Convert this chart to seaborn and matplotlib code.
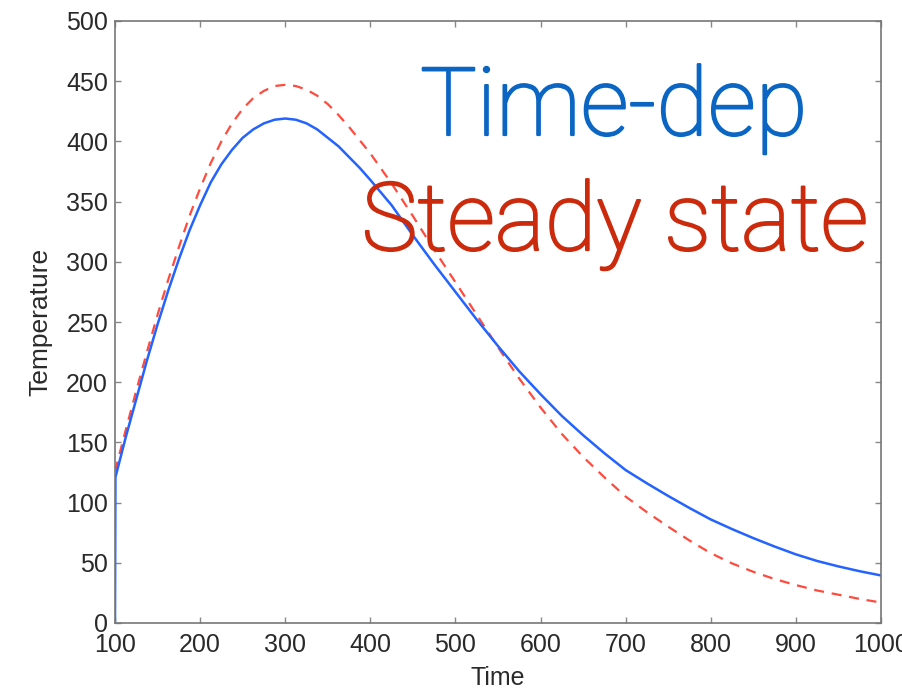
import matplotlib
matplotlib.use("Agg")
import matplotlib.pyplot as plt
import matplotlib.patheffects as pe
import seaborn as sns
import pandas as pd

# ---- data ----
time_dep_t = [100, 100.5, 112.5, 125, 137.5, 150, 162.5, 175, 187.5, 200, 212.5, 225,
              237.5, 250, 262.5, 275, 287.5, 300, 312.5, 325, 337.5, 350, 362.5,
              375, 387.5, 400, 425, 450, 475, 500, 525, 550, 575, 600, 625, 650,
              675, 700, 725, 750, 775, 800, 825, 850, 875, 900, 925, 950, 975, 1000]
time_dep_T = [0, 121, 154, 186, 218, 248, 276, 302, 326, 347, 366, 381,
              393, 403, 410, 415, 418, 419, 418, 415, 410, 403, 396,
              387, 378, 368, 347, 322, 298, 275, 252, 230, 209, 190, 172, 156,
              141, 127, 116, 105.5, 95.5, 86, 78, 70.5, 63.5, 57, 51.5, 47, 43, 39.5]

steady_t = [100, 112.5, 125, 137.5, 150, 162.5, 175, 187.5, 200, 212.5, 225, 237.5,
            250, 262.5, 275, 287.5, 300, 312.5, 325, 337.5, 350, 362.5, 375, 387.5,
            400, 425, 450, 475, 500, 525, 550, 575, 600, 625, 650, 675, 700, 725,
            750, 775, 800, 825, 850, 875, 900, 925, 950, 975, 1000]
steady_T = [126, 160, 193, 225, 256, 285, 312, 338, 361, 382, 400, 415,
            427, 436, 442, 446, 447, 446, 443, 438, 431, 422, 412, 401,
            390, 365, 338, 310, 283, 256, 229, 203, 179, 157, 138, 121, 105, 92,
            80, 68.5, 58, 49.5, 42.5, 36.5, 31.5, 27, 23.5, 20, 17]

x_ticks = [100, 200, 300, 400, 500, 600, 700, 800, 900, 1000]
y_ticks = [0, 50, 100, 150, 200, 250, 300, 350, 400, 450, 500]

x_label = "Time"
y_label = "Temperature"
title_blue = "Time-dep"
title_red = "Steady state"

# ---- figure ----
sns.set_theme(style="white")
plt.rcParams["font.family"] = ["Liberation Sans", "DejaVu Sans"]

fig = plt.figure(figsize=(9.03, 6.89), dpi=100)
ax = fig.add_axes([115 / 903, 1 - 623 / 689, (881 - 115) / 903, (623 - 21) / 689])

df_blue = pd.DataFrame({"t": time_dep_t, "T": time_dep_T})
df_red = pd.DataFrame({"t": steady_t, "T": steady_T})

sns.lineplot(data=df_red, x="t", y="T", ax=ax, color="#ff4a3e", linewidth=1.6,
             linestyle=(0, (4.5, 3.5)), sort=False, estimator=None)
sns.lineplot(data=df_blue, x="t", y="T", ax=ax, color="#2463ff", linewidth=1.8,
             sort=False, estimator=None)

ax.set_xlim(100, 1000)
ax.set_ylim(0, 500)
ax.set_xticks(x_ticks)
ax.set_yticks(y_ticks)
ax.set_xticklabels([str(v) for v in x_ticks])
ax.set_yticklabels([str(v) for v in y_ticks])

label_color = "#2a2a2a"
ax.tick_params(axis="both", which="both", direction="in", length=4, width=1,
               color="#888888", labelsize=18, labelcolor=label_color,
               top=True, right=True, bottom=True, left=True)
ax.tick_params(axis="x", pad=7)
ax.tick_params(axis="y", pad=5)

for s in ax.spines.values():
    s.set_visible(True)
    s.set_color("#777777")
    s.set_linewidth(1.2)

ax.set_xlabel(x_label, fontsize=18, color=label_color, labelpad=7)
ax.set_ylabel(y_label, fontsize=19, color=label_color, labelpad=10)

blue_txt = "#0b66c3"
red_txt = "#cc2a0c"
fig.text(614 / 903, 1 - 135 / 689, title_blue, color=blue_txt, fontsize=68,
         ha="center", va="baseline", family=["Roboto", "DejaVu Sans"], fontweight="light",
         path_effects=[pe.withStroke(linewidth=1.6, foreground=blue_txt)])
fig.text(615 / 903, 1 - 250 / 689, title_red, color=red_txt, fontsize=68,
         ha="center", va="baseline", family=["Roboto", "DejaVu Sans"], fontweight="light",
         path_effects=[pe.withStroke(linewidth=1.6, foreground=red_txt)])

fig.savefig("out.png", dpi=100)
